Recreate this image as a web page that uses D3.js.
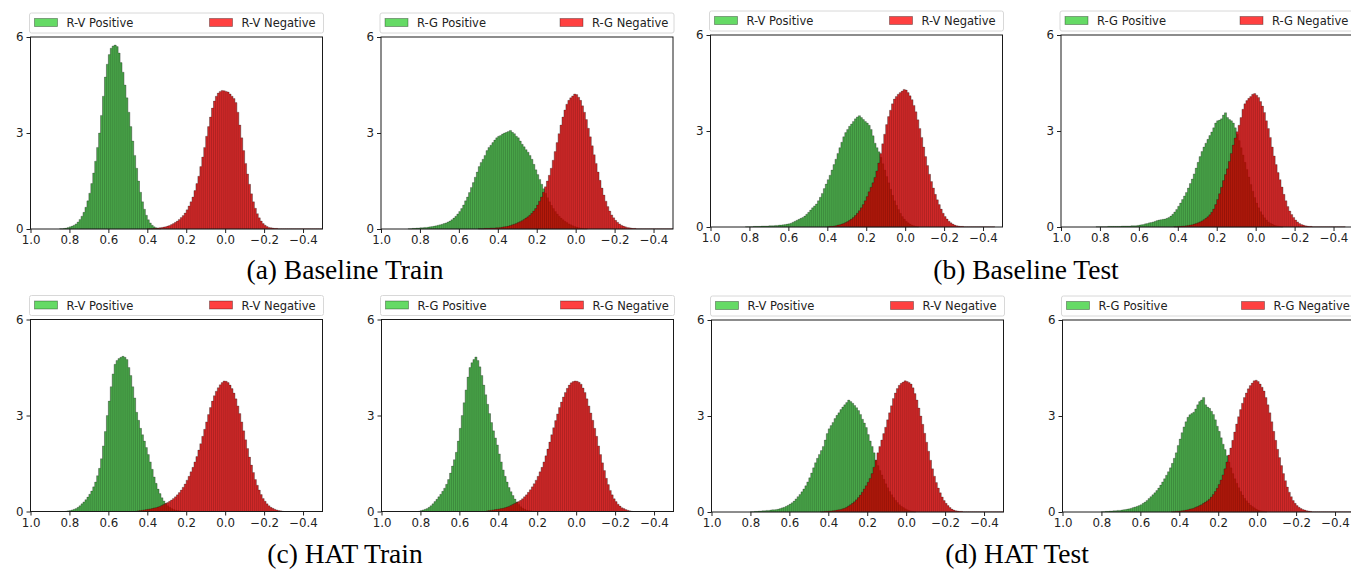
<!doctype html>
<html>
<head>
<meta charset="utf-8">
<title>Positive / negative score histograms</title>
<script src="https://cdn.jsdelivr.net/npm/d3@7"></script>
<style>
  body { margin: 0; background: #fff; }
  svg { display: block; }
  .tick text { font-family: "DejaVu Sans", sans-serif; font-size: 11.8px; fill: #222; }
  .tick line { stroke: #222; }
  .domain { display: none; }
  .legend text { font-family: "DejaVu Sans", sans-serif; font-size: 11.5px; fill: #222; }
  .caption { font-family: "Liberation Serif", "Times New Roman", serif; font-size: 27.5px; fill: #000; }
</style>
</head>
<body>
<svg id="chart" width="1351" height="569"></svg>
<script>
// bin heights (density), bins are 0.01 wide, listed left to right (high score -> low score)
// each series starts at the bin edge given in the matching *Start value

// (a) Baseline Train
const aRVPosStart = 0.85;
const aRVPos = [0.01,0.01,0.02,0.03,0.05,0.07,0.09,0.12,0.16,0.22,0.3,0.4,0.52,0.68,0.88,1.12,1.42,1.75,2.12,2.55,
  3.0,3.55,4.15,4.75,5.15,5.45,5.65,5.72,5.75,5.7,5.5,5.2,4.9,4.5,4.1,3.65,3.2,2.75,2.3,1.9,
  1.5,1.15,0.85,0.62,0.43,0.29,0.19,0.12,0.07,0.04,0.02,0.01];
const aRVNegStart = 0.40;
const aRVNeg = [0.01,0.01,0.01,0.02,0.02,0.03,0.04,0.05,0.06,0.07,0.09,0.11,0.14,0.17,0.21,0.25,0.3,0.36,0.42,0.5,
  0.6,0.72,0.85,1.0,1.2,1.42,1.65,1.95,2.25,2.55,2.9,3.2,3.5,3.78,4.0,4.15,4.25,4.3,4.33,4.32,
  4.3,4.28,4.22,4.15,4.08,3.95,3.65,3.25,2.85,2.45,2.05,1.72,1.4,1.1,0.85,0.65,0.48,0.35,0.25,0.17,
  0.12,0.08,0.05,0.04,0.03,0.02,0.02,0.01,0.01,0.01,0.01,0.01,0.01,0.01,0.01,0.01,0.01,0.01,0.01,0.01,
  0.01,0.01,0.01,0.01,0.01,0.01,0.01,0.01,0.01,0.01];
const aRGPosStart = 0.86;
const aRGPos = [0.01,0.01,0.02,0.02,0.03,0.03,0.04,0.04,0.05,0.05,0.06,0.07,0.08,0.09,0.1,0.12,0.13,0.15,0.17,0.19,
  0.22,0.25,0.29,0.34,0.4,0.47,0.55,0.64,0.75,0.88,1.0,1.14,1.3,1.45,1.62,1.78,1.95,2.08,2.18,2.3,
  2.45,2.55,2.62,2.7,2.78,2.85,2.9,2.92,2.97,3.0,3.02,3.05,3.08,3.02,2.98,2.9,2.85,2.75,2.65,2.57,
  2.48,2.4,2.3,2.18,2.02,1.85,1.7,1.55,1.4,1.26,1.12,0.98,0.85,0.74,0.64,0.55,0.47,0.4,0.34,0.29,
  0.24,0.2,0.16,0.13,0.1,0.08,0.06,0.04,0.03,0.02,0.01,0.01];
const aRGNegStart = 0.50;
const aRGNeg = [0.01,0.01,0.01,0.02,0.02,0.02,0.03,0.03,0.03,0.04,0.04,0.05,0.06,0.07,0.08,0.09,0.11,0.13,0.15,0.17,
  0.2,0.23,0.26,0.3,0.34,0.38,0.43,0.49,0.56,0.64,0.75,0.87,1.0,1.15,1.32,1.5,1.68,1.9,2.15,2.42,
  2.7,2.98,3.25,3.5,3.72,3.9,4.02,4.1,4.16,4.22,4.2,4.12,4.02,3.85,3.65,3.42,3.15,2.88,2.6,2.32,
  2.05,1.78,1.52,1.28,1.06,0.87,0.7,0.56,0.44,0.35,0.27,0.21,0.16,0.12,0.09,0.07,0.05,0.04,0.03,0.02,
  0.02,0.01,0.01,0.01,0.01,0.01,0.01,0.01,0.01,0.01,0.01,0.01,0.01,0.01,0.01,0.01,0.01,0.01,0.01,0.01];

// (b) Baseline Test
const bRVPosStart = 0.82;
const bRVPos = [0.01,0.01,0.01,0.01,0.02,0.02,0.02,0.02,0.03,0.03,0.03,0.03,0.04,0.04,0.04,0.05,0.05,0.06,0.06,0.07,
  0.08,0.09,0.1,0.12,0.15,0.18,0.21,0.24,0.27,0.3,0.34,0.4,0.46,0.53,0.6,0.66,0.72,0.82,0.93,1.05,
  1.2,1.34,1.48,1.62,1.78,1.95,2.12,2.3,2.48,2.65,2.82,2.95,3.05,3.15,3.22,3.3,3.38,3.44,3.48,3.42,
  3.36,3.3,3.25,3.18,3.05,2.85,2.62,2.48,2.35,2.18,1.98,1.78,1.58,1.38,1.18,0.99,0.82,0.68,0.55,0.43,
  0.33,0.25,0.18,0.13,0.09,0.06,0.04,0.02,0.01];
const bRVNegStart = 0.40;
const bRVNeg = [0.01,0.02,0.02,0.03,0.04,0.06,0.07,0.09,0.11,0.14,0.17,0.21,0.25,0.3,0.36,0.43,0.51,0.6,0.7,0.82,
  0.95,1.1,1.24,1.38,1.55,1.75,2.0,2.3,2.6,2.9,3.2,3.45,3.65,3.85,4.0,4.08,4.15,4.2,4.25,4.3,
  4.28,4.2,4.1,3.98,3.8,3.6,3.35,3.08,2.8,2.5,2.2,1.92,1.65,1.42,1.22,1.02,0.85,0.7,0.56,0.43,
  0.33,0.25,0.18,0.13,0.09,0.06,0.04,0.03,0.02,0.02,0.01,0.01,0.01,0.01,0.01,0.01,0.01,0.01,0.01,0.01,
  0.01,0.01,0.01,0.01,0.01,0.01];
const bRGPosStart = 0.82;
const bRGPos = [0.01,0.01,0.01,0.01,0.01,0.01,0.02,0.02,0.02,0.02,0.02,0.02,0.02,0.03,0.03,0.03,0.03,0.03,0.04,0.04,
  0.04,0.05,0.06,0.07,0.08,0.1,0.11,0.13,0.14,0.16,0.18,0.2,0.22,0.23,0.24,0.25,0.27,0.3,0.34,0.4,
  0.47,0.55,0.65,0.75,0.86,0.97,1.08,1.22,1.36,1.5,1.66,1.84,2.02,2.2,2.36,2.5,2.62,2.74,2.86,2.97,
  3.1,3.25,3.32,3.34,3.38,3.5,3.57,3.42,3.36,3.32,3.25,3.1,2.9,2.7,2.48,2.25,2.02,1.8,1.56,1.33,
  1.12,0.92,0.75,0.6,0.48,0.38,0.29,0.22,0.16,0.12,0.09,0.06,0.04,0.03,0.02,0.01];
const bRGNegStart = 0.42;
const bRGNeg = [0.01,0.01,0.02,0.02,0.03,0.03,0.04,0.05,0.06,0.07,0.09,0.11,0.13,0.16,0.19,0.23,0.27,0.32,0.38,0.46,
  0.56,0.7,0.86,1.04,1.24,1.45,1.64,1.82,2.05,2.3,2.56,2.78,2.98,3.18,3.42,3.68,3.85,3.95,4.02,4.08,
  4.15,4.17,4.12,4.05,3.92,3.78,3.58,3.32,3.08,2.8,2.5,2.22,1.95,1.7,1.48,1.25,1.02,0.82,0.64,0.5,
  0.39,0.3,0.22,0.16,0.11,0.08,0.06,0.04,0.03,0.02,0.02,0.01,0.01,0.01,0.01,0.01,0.01,0.01,0.01,0.01,
  0.01,0.01,0.01,0.01,0.01,0.01,0.01,0.01];

// (c) HAT Train
const cRVPosStart = 0.82;
const cRVPos = [0.01,0.02,0.03,0.05,0.07,0.09,0.13,0.18,0.24,0.3,0.37,0.45,0.54,0.64,0.77,0.92,1.12,1.35,1.65,2.05,
  2.5,3.0,3.45,3.9,4.3,4.6,4.72,4.78,4.82,4.85,4.82,4.75,4.5,4.25,3.9,3.55,3.1,2.85,2.6,2.4,
  2.2,2.0,1.78,1.55,1.32,1.08,0.88,0.7,0.56,0.43,0.33,0.25,0.18,0.13,0.09,0.06,0.04,0.03,0.02,0.01];
const cRVNegStart = 0.46;
const cRVNeg = [0.01,0.02,0.03,0.04,0.05,0.06,0.07,0.08,0.09,0.11,0.12,0.14,0.16,0.19,0.22,0.25,0.28,0.32,0.36,0.41,
  0.46,0.52,0.59,0.67,0.76,0.86,0.98,1.1,1.24,1.38,1.55,1.72,1.92,2.12,2.35,2.57,2.8,3.03,3.25,3.45,
  3.62,3.76,3.87,3.96,4.03,4.08,4.07,4.03,3.95,3.84,3.7,3.52,3.3,3.06,2.8,2.52,2.24,1.97,1.7,1.45,
  1.22,1.0,0.82,0.67,0.53,0.41,0.32,0.24,0.18,0.13,0.1,0.07,0.05,0.03,0.02,0.01];
const cRGPosStart = 0.81;
const cRGPos = [0.01,0.03,0.05,0.07,0.09,0.13,0.18,0.24,0.31,0.38,0.46,0.54,0.63,0.73,0.85,1.0,1.2,1.42,1.62,1.85,
  2.2,2.6,3.0,3.4,3.8,4.2,4.5,4.65,4.75,4.83,4.72,4.52,4.25,3.95,3.65,3.35,3.06,2.78,2.52,2.3,
  2.08,1.8,1.55,1.3,1.1,0.92,0.75,0.62,0.5,0.39,0.3,0.22,0.15,0.1,0.07,0.04,0.03,0.02,0.01];
const cRGNegStart = 0.46;
const cRGNeg = [0.02,0.03,0.04,0.05,0.06,0.07,0.08,0.09,0.1,0.12,0.14,0.16,0.19,0.22,0.25,0.28,0.31,0.35,0.4,0.46,
  0.52,0.6,0.68,0.77,0.87,0.98,1.1,1.24,1.38,1.55,1.74,1.95,2.17,2.4,2.62,2.84,3.05,3.25,3.42,3.58,
  3.72,3.85,3.95,4.02,4.06,4.08,4.07,4.04,3.98,3.86,3.72,3.52,3.3,3.08,2.85,2.6,2.35,2.05,1.78,1.52,
  1.28,1.04,0.84,0.66,0.52,0.4,0.31,0.23,0.17,0.12,0.09,0.06,0.04,0.02,0.01];

// (d) HAT Test
const dRVPosStart = 0.80;
const dRVPos = [0.01,0.01,0.02,0.02,0.03,0.03,0.04,0.04,0.05,0.05,0.06,0.07,0.07,0.08,0.09,0.11,0.13,0.15,0.18,0.21,
  0.25,0.29,0.34,0.41,0.48,0.55,0.63,0.72,0.82,0.94,1.07,1.22,1.38,1.54,1.68,1.8,1.92,2.05,2.25,2.45,
  2.6,2.7,2.8,2.92,3.02,3.1,3.2,3.28,3.35,3.42,3.5,3.45,3.4,3.33,3.26,3.17,3.05,2.9,2.78,2.64,
  2.42,2.22,2.05,1.85,1.62,1.45,1.3,1.16,1.02,0.88,0.76,0.64,0.54,0.45,0.37,0.3,0.23,0.18,0.14,0.1,
  0.07,0.05,0.03,0.02,0.01];
const dRVNegStart = 0.44;
const dRVNeg = [0.01,0.01,0.02,0.02,0.03,0.03,0.04,0.05,0.06,0.07,0.08,0.1,0.12,0.15,0.19,0.23,0.27,0.32,0.38,0.45,
  0.53,0.62,0.72,0.82,0.93,1.05,1.2,1.4,1.62,1.85,2.05,2.25,2.45,2.65,2.88,3.1,3.32,3.55,3.72,3.86,
  3.96,4.02,4.06,4.1,4.08,4.05,4.0,3.88,3.7,3.5,3.25,3.0,2.74,2.46,2.18,1.9,1.62,1.35,1.12,0.92,
  0.75,0.6,0.47,0.36,0.27,0.2,0.14,0.09,0.06,0.04,0.03,0.02,0.02,0.01,0.01,0.01,0.01,0.01,0.01,0.01,
  0.01,0.01,0.01,0.01,0.01,0.01,0.01,0.01,0.01,0.01,0.01,0.01,0.01,0.01];
const dRGPosStart = 0.80;
const dRGPos = [0.01,0.01,0.02,0.02,0.03,0.03,0.04,0.04,0.05,0.05,0.06,0.07,0.08,0.09,0.1,0.12,0.14,0.16,0.18,0.2,
  0.23,0.27,0.31,0.36,0.42,0.48,0.54,0.6,0.67,0.75,0.84,0.94,1.04,1.15,1.26,1.38,1.52,1.68,1.85,2.08,
  2.28,2.48,2.66,2.82,2.96,3.04,3.08,3.12,3.22,3.35,3.45,3.5,3.58,3.35,3.28,3.24,3.15,3.05,2.88,2.68,
  2.52,2.32,2.12,1.95,1.76,1.56,1.38,1.2,1.04,0.9,0.76,0.64,0.53,0.43,0.35,0.28,0.22,0.17,0.13,0.09,
  0.06,0.04,0.03,0.02,0.01];
const dRGNegStart = 0.44;
const dRGNeg = [0.01,0.01,0.02,0.02,0.03,0.04,0.05,0.06,0.07,0.09,0.1,0.12,0.15,0.17,0.2,0.23,0.27,0.31,0.35,0.4,
  0.47,0.55,0.64,0.74,0.86,1.0,1.16,1.35,1.56,1.78,2.0,2.24,2.5,2.75,2.98,3.2,3.4,3.58,3.72,3.85,
  3.95,4.03,4.1,4.12,4.08,4.0,3.9,3.78,3.58,3.35,3.1,2.82,2.52,2.24,1.96,1.7,1.45,1.2,0.98,0.78,
  0.62,0.48,0.36,0.27,0.2,0.15,0.11,0.08,0.06,0.04,0.03,0.02,0.01,0.01,0.01,0.01,0.01,0.01,0.01,0.01,
  0.01,0.01,0.01,0.01,0.01,0.01,0.01,0.01,0.01,0.01,0.01,0.01,0.01,0.01];

const xTicks = [1.0, 0.8, 0.6, 0.4, 0.2, 0.0, -0.2, -0.4];
const yTicks = [0, 3, 6];
const captions = ["(a) Baseline Train", "(b) Baseline Test", "(c) HAT Train", "(d) HAT Test"];

const W = 292, H = 192, BIN = 0.01;

const panels = [
  {left: 30.5,  top: 37,    pos: aRVPos, posStart: aRVPosStart, neg: aRVNeg, negStart: aRVNegStart, pair: "R-V"},
  {left: 381,   top: 37,    pos: aRGPos, posStart: aRGPosStart, neg: aRGNeg, negStart: aRGNegStart, pair: "R-G"},
  {left: 710.5, top: 35,    pos: bRVPos, posStart: bRVPosStart, neg: bRVNeg, negStart: bRVNegStart, pair: "R-V"},
  {left: 1061,  top: 35,    pos: bRGPos, posStart: bRGPosStart, neg: bRGNeg, negStart: bRGNegStart, pair: "R-G"},
  {left: 30.5,  top: 319.5, pos: cRVPos, posStart: cRVPosStart, neg: cRVNeg, negStart: cRVNegStart, pair: "R-V"},
  {left: 381.5, top: 319.5, pos: cRGPos, posStart: cRGPosStart, neg: cRGNeg, negStart: cRGNegStart, pair: "R-G"},
  {left: 711.5, top: 320,   pos: dRVPos, posStart: dRVPosStart, neg: dRVNeg, negStart: dRVNegStart, pair: "R-V"},
  {left: 1062.5,top: 320,   pos: dRGPos, posStart: dRGPosStart, neg: dRGNeg, negStart: dRGNegStart, pair: "R-G"}
];

const captionPos = [[345, 279], [1026, 279], [345, 563], [1017, 563]];

const svg = d3.select("#chart");
svg.append("rect").attr("width", 1351).attr("height", 569).attr("fill", "#fff");

const x = d3.scaleLinear().domain([1.0, -0.5]).range([0, W]);
const y = d3.scaleLinear().domain([0, 6]).range([H, 0]);

// legend swatch colours (matplotlib limegreen / red at alpha .75)
const GREEN = "#32cd32", RED = "#ff0000";
// bar body colours: mimic the alpha fill plus the dense dark bar edges
const series = [
  {key: "pos", fill: "#4aa84a", opacity: 1},
  {key: "neg", fill: "#cc0000", opacity: 0.84}
];

function bins(heights, start) {
  return heights.map((h, i) => ({x0: start - BIN * i, x1: start - BIN * (i + 1), h}));
}

// step outline of a histogram (one point per bin left edge, plus the last right edge)
const stepArea = d3.area()
  .curve(d3.curveStepAfter)
  .x(d => x(d.x))
  .y0(y(0))
  .y1(d => y(d.h));

panels.forEach((p, k) => {
  const g = svg.append("g").attr("transform", `translate(${p.left},${p.top})`);

  series.forEach(s => {
    const b = bins(p[s.key], p[s.key + "Start"]);
    const pts = b.map(d => ({x: d.x0, h: d.h}));
    pts.push({x: b[b.length - 1].x1, h: b[b.length - 1].h});

    const sg = g.append("g");
    sg.append("path")
      .datum(pts)
      .attr("d", stepArea)
      .attr("fill", s.fill)
      .attr("fill-opacity", s.opacity)
      .attr("stroke", "#000")
      .attr("stroke-opacity", 0.35)
      .attr("stroke-width", 0.6);

    // bar edges between neighbouring bins
    const edges = b.map((d, i) => ({x: d.x0, h: Math.max(d.h, i > 0 ? b[i - 1].h : 0)}));
    edges.push({x: b[b.length - 1].x1, h: b[b.length - 1].h});
    sg.selectAll("line")
      .data(edges)
      .join("line")
        .attr("x1", d => x(d.x)).attr("x2", d => x(d.x))
        .attr("y1", y(0)).attr("y2", d => y(d.h))
        .attr("stroke", "#000")
        .attr("stroke-opacity", 0.32)
        .attr("stroke-width", 0.55);
  });

  // axes
  g.append("g")
    .attr("transform", `translate(0,${H})`)
    .call(d3.axisBottom(x).tickValues(xTicks).tickFormat(d3.format(".1f")).tickSize(4).tickPadding(3));
  g.append("g")
    .call(d3.axisLeft(y).tickValues(yTicks).tickFormat(d3.format("d")).tickSize(4).tickPadding(3));

  g.append("rect")
    .attr("width", W).attr("height", H)
    .attr("fill", "none").attr("stroke", "#1a1a1a").attr("stroke-width", 1);

  // legend across the top of the axes
  const lg = g.append("g").attr("class", "legend").attr("transform", "translate(0,-24)");
  lg.append("rect")
    .attr("x", -1).attr("width", W + 2).attr("height", 20).attr("rx", 2)
    .attr("fill", "#fff").attr("stroke", "#d8d8d8");
  const items = [[p.pair + " Positive", GREEN, 4], [p.pair + " Negative", RED, 179]];
  items.forEach(([label, col, lx]) => {
    lg.append("rect")
      .attr("x", lx).attr("y", 5.5).attr("width", 23).attr("height", 8)
      .attr("fill", col).attr("fill-opacity", 0.75)
      .attr("stroke", "#000").attr("stroke-opacity", 0.4).attr("stroke-width", 0.8);
    lg.append("text").attr("x", lx + 32).attr("y", 14).text(label);
  });
});

captions.forEach((c, i) => {
  svg.append("text").attr("class", "caption")
    .attr("x", captionPos[i][0]).attr("y", captionPos[i][1])
    .attr("text-anchor", "middle").text(c);
});
</script>
</body>
</html>
